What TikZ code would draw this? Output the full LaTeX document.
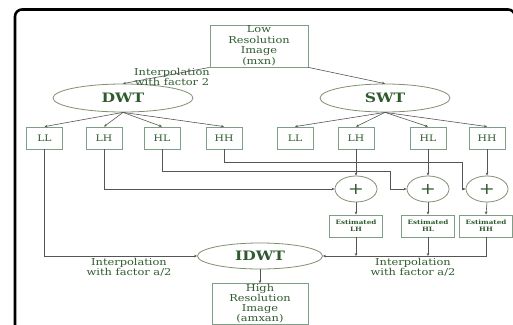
\documentclass[tikz,border=0pt]{standalone}
\usepackage{fontspec}
\setmainfont{DejaVu Serif}[FakeStretch=1.2]
\usetikzlibrary{arrows.meta,shapes.geometric}
\definecolor{ink}{HTML}{2F5A2F}
\definecolor{boxline}{HTML}{7E9E86}
\definecolor{ovalline}{HTML}{808F70}
\definecolor{wire}{HTML}{555555}
\tikzset{
  blk/.style={draw=boxline, line width=0.8pt, text=ink, align=center, inner sep=1pt},
  imgbox/.style={blk, minimum width=98pt, minimum height=42pt,
    font=\fontsize{9.5}{10.5}\selectfont},
  band/.style={blk, minimum width=36pt, minimum height=22pt,
    font=\fontsize{9}{9}\selectfont},
  est/.style={blk, minimum width=53pt, minimum height=22pt,
    font=\bfseries\fontsize{6}{7}\selectfont},
  oval/.style={ellipse, draw=ovalline, line width=0.8pt, text=ink, inner sep=0pt,
    font=\bfseries\fontsize{13}{13}\selectfont},
  sum/.style={ellipse, draw=ovalline, line width=0.8pt, text=ink, inner sep=0pt,
    minimum width=42pt, minimum height=26pt, font=\fontsize{16}{16}\selectfont},
  wire/.style={draw=wire, line width=0.6pt},
  arr/.style={wire, -{Stealth[length=3pt,width=2.6pt]}},
  lbl/.style={text=ink, align=center, font=\fontsize{9.5}{10}\selectfont}
}

\begin{document}
\begin{tikzpicture}[x=1pt,y=-1pt]
  \useasboundingbox (0,0) rectangle (513,324);
  \clip (0,0) rectangle (513,324);
  \draw[line width=2.6pt, rounded corners=7pt] (15,9.5) rectangle (515,336);

  \node[imgbox] (lowres) at (259,46) {Low\\Resolution\\Image\\(mxn)};
  \node[oval, minimum width=140pt, minimum height=28pt] (dwt) at (123,98) {DWT};
  \node[oval, minimum width=130pt, minimum height=28pt] (swt) at (385,98) {SWT};
  \node[lbl] (interp) at (172,77) {Interpolation\\with factor 2};
  \draw[arr] (lowres.south west) -- (dwt.north);
  \draw[arr] (lowres.south east) -- (swt.north);

  % sub-bands
  \node[band] (dLL) at (44.5,138) {LL};
  \node[band] (dLH) at (104,138) {LH};
  \node[band] (dHL) at (162,138) {HL};
  \node[band] (dHH) at (224,138) {HH};
  \node[band] (sLL) at (295,138) {LL};
  \node[band] (sLH) at (356,138) {LH};
  \node[band] (sHL) at (428,138) {HL};
  \node[band] (sHH) at (487,138) {HH};
  \foreach \b in {dLL,dLH,dHL,dHH} \draw[arr] (dwt.south) -- (\b.north);
  \foreach \b in {sLL,sLH,sHL,sHH} \draw[arr] (swt.south) -- (\b.north);

  \node[sum] (p1) at (356,189) {+};
  \node[sum] (p2) at (428,189) {+};
  \node[sum] (p3) at (487,189) {+};
  \node[est] (e1) at (356,226) {Estimated\\LH};
  \node[est] (e2) at (428,226) {Estimated\\HL};
  \node[est] (e3) at (486,226) {Estimated\\HH};

  \coordinate (k2) at (390,171);
  \coordinate (k3) at (462,162);
  \draw[arr] (dLH.south) |- (p1.west);
  \draw[arr] (dHL.south) |- (k2) |- (p2.west);
  \draw[arr] (dHH.south) |- (k3) |- (p3.west);
  \foreach \s/\i in {sLH/1,sHL/2,sHH/3} {
    \draw[arr] (\s.south) -- (p\i.north);
    \draw[arr] (p\i.south) -- (e\i.north);
  }

  \node[oval, minimum width=125pt, minimum height=26pt] (idwt) at (260,256) {IDWT};
  \draw[arr] (e3.south) |- (idwt.east);
  \draw[arr] (e1.south) -- (e1.south |- idwt.east);
  \draw[arr] (e2.south) -- (e2.south |- idwt.east);
  \draw[arr] (dLL.south) |- (idwt.west);
  \node[lbl] (leftnote) at (129,267) {Interpolation\\with factor a/2};
  \node[lbl] (rightnote) at (413,267) {Interpolation\\with factor a/2};

  \node[imgbox, minimum width=96pt, minimum height=40pt,
    font=\fontsize{9.5}{10}\selectfont] (hires) at (260,304) {High\\Resolution\\Image\\(amxan)};
  \draw[arr] (idwt.south) -- (hires.north);
\end{tikzpicture}
\end{document}
